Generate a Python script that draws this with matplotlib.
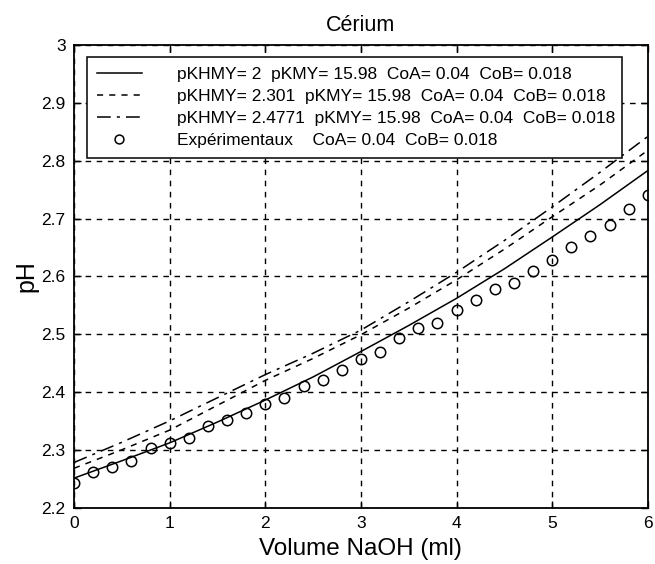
import matplotlib
matplotlib.use('Agg')
import matplotlib.pyplot as plt

plt.rcParams['font.family'] = ['Liberation Sans', 'DejaVu Sans']

# experimental points
vol_exp = [0, 0.2, 0.4, 0.6, 0.8, 1.0, 1.2, 1.4, 1.6, 1.8, 2.0, 2.2, 2.4, 2.6, 2.8, 3.0,
           3.2, 3.4, 3.6, 3.8, 4.0, 4.2, 4.4, 4.6, 4.8, 5.0, 5.2, 5.4, 5.6, 5.8, 6.0]
ph_exp = [2.242, 2.261, 2.271, 2.281, 2.303, 2.311, 2.321, 2.342, 2.352, 2.364, 2.380,
          2.390, 2.410, 2.421, 2.438, 2.457, 2.470, 2.493, 2.510, 2.519, 2.541, 2.559,
          2.579, 2.589, 2.610, 2.628, 2.651, 2.669, 2.689, 2.717, 2.740]

# calculated curves
vol_calc = [0, 0.5, 1.0, 1.5, 2.0, 2.5, 3.0, 3.5, 4.0, 4.5, 5.0, 5.5, 6.0]
ph_2 = [2.251, 2.281, 2.312, 2.348, 2.386, 2.426, 2.470, 2.515, 2.562, 2.613, 2.668, 2.724, 2.783]
ph_2301 = [2.268, 2.300, 2.334, 2.377, 2.420, 2.458, 2.499, 2.545, 2.594, 2.647, 2.703, 2.758, 2.818]
ph_24771 = [2.278, 2.313, 2.350, 2.390, 2.430, 2.467, 2.507, 2.556, 2.607, 2.662, 2.720, 2.780, 2.842]

labels = ['pKHMY= 2  pKMY= 15.98  CoA= 0.04  CoB= 0.018',
          'pKHMY= 2.301  pKMY= 15.98  CoA= 0.04  CoB= 0.018',
          'pKHMY= 2.4771  pKMY= 15.98  CoA= 0.04  CoB= 0.018',
          'Expérimentaux    CoA= 0.04  CoB= 0.018']

fig = plt.figure(figsize=(6.55, 5.64), dpi=100)
ax = fig.add_axes([0.113, 0.100, 0.876, 0.820])

ax.plot(vol_calc, ph_2, color='black', lw=1.1, linestyle='-', label=labels[0])
ax.plot(vol_calc, ph_2301, color='black', lw=1.1, linestyle=(0, (4, 4)), label=labels[1])
ax.plot(vol_calc, ph_24771, color='black', lw=1.1, linestyle=(0, (9, 4, 2, 4)), label=labels[2])
ax.plot(vol_exp, ph_exp, 'o', mfc='none', mec='black', ms=7.5, mew=1.1, label=labels[3])

ax.set_xlim(0, 6)
ax.set_ylim(2.2, 3.0)
ax.set_xticks([0, 1, 2, 3, 4, 5, 6])
ax.set_yticks([2.2, 2.3, 2.4, 2.5, 2.6, 2.7, 2.8, 2.9, 3.0])
ax.set_yticklabels(['2.2', '2.3', '2.4', '2.5', '2.6', '2.7', '2.8', '2.9', '3'])
ax.grid(True, color='black', linestyle=(0, (4, 4)), lw=1.0)
ax.tick_params(direction='in', top=True, right=True, labelsize=12.5, length=5, width=1, pad=6)
for s in ax.spines.values():
    s.set_linewidth(1.3)

ax.set_title('Cérium', fontsize=15.5, pad=10)
ax.set_xlabel('Volume NaOH (ml)', fontsize=17.5, labelpad=5)
ax.set_ylabel('pH', fontsize=18, labelpad=2)

leg = ax.legend(loc='upper left', bbox_to_anchor=(0.023, 0.974, 0.932, 0.0), mode='expand',
                fontsize=12.5, frameon=True, fancybox=False, edgecolor='black',
                handlelength=2.6, handletextpad=2.0, borderpad=0.55, labelspacing=0.40,
                borderaxespad=0, markerscale=0.85)
leg.get_frame().set_linewidth(1.1)
leg.get_frame().set_alpha(1)

fig.savefig('out.png', dpi=100)
